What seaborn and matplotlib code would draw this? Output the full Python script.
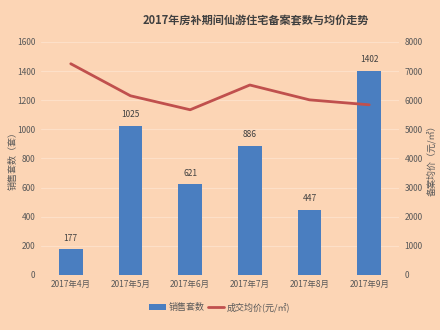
import matplotlib
matplotlib.use("Agg")
import matplotlib.pyplot as plt
import seaborn as sns
import pandas as pd
from matplotlib.patches import Patch
from matplotlib.lines import Line2D

months = ["2017年4月", "2017年5月", "2017年6月", "2017年7月", "2017年8月", "2017年9月"]
units_sold = [177, 1025, 621, 886, 447, 1402]
avg_price = [7250, 6150, 5670, 6520, 6010, 5840]

title = "2017年房补期间仙游住宅备案套数与均价走势"
left_label = "销售套数（套）"
right_label = "备案均价（元/㎡）"
bar_name = "销售套数"
line_name = "成交均价(元/㎡)"

bg = "#FCD5B5"
bar_color = "#4A7EC0"
line_color = "#C0504D"
tick_color = "#595959"

sns.set_theme(style="white")
plt.rcParams["font.family"] = ["Noto Sans CJK SC", "DejaVu Sans"]

df = pd.DataFrame({"month": months, "units": units_sold, "price": avg_price})

fig = plt.figure(figsize=(4.4, 3.3), dpi=100)
fig.patch.set_facecolor(bg)
ax = fig.add_axes([0.093, 0.167, 0.814, 0.706])
ax.set_facecolor(bg)

sns.barplot(data=df, x="month", y="units", color=bar_color, width=0.4,
            saturation=1, linewidth=0, ax=ax, zorder=2)
ax.set_ylim(0, 1600)
ax.set_yticks(range(0, 1601, 200))
ax.set_xlim(-0.5, 5.5)
ax.grid(axis="y", color="#FDE0C8", linewidth=0.8, zorder=0)
ax.set_axisbelow(True)
for s in ax.spines.values():
    s.set_visible(False)
ax.set_xlabel("")
ax.set_ylabel(left_label, fontsize=6.5, color=tick_color)
ax.yaxis.set_label_coords(-0.066, 0.5)
ax.tick_params(axis="both", length=0, labelsize=6, colors=tick_color, pad=4)

for i, v in enumerate(units_sold):
    ax.text(i, v + 45, str(v), ha="center", va="bottom", fontsize=6, color="#404040")

ax2 = ax.twinx()
ax2.set_facecolor("none")
sns.lineplot(x=list(range(len(months))), y=avg_price, color=line_color,
             linewidth=2, ax=ax2, zorder=3)
ax2.set_ylim(0, 8000)
ax2.set_yticks(range(0, 8001, 1000))
ax2.set_xlim(-0.5, 5.5)
for s in ax2.spines.values():
    s.set_visible(False)
ax2.set_ylabel(right_label, fontsize=6.5, color=tick_color, rotation=90)
ax2.yaxis.set_label_coords(1.078, 0.5)
ax2.tick_params(axis="y", length=0, labelsize=6, colors=tick_color, pad=4)

fig.text(0.582, 0.935, title, ha="center", va="center", fontsize=8,
         fontweight="bold", color="#404040")

handles = [Patch(facecolor=bar_color, edgecolor="none"),
           Line2D([0], [0], color=line_color, linewidth=2)]
fig.legend(handles, [bar_name, line_name], loc="center", bbox_to_anchor=(0.5, 0.07),
           ncol=2, frameon=False, fontsize=6.5, handlelength=1.8, columnspacing=0.4,
           handletextpad=0.3, labelcolor=tick_color)

fig.savefig("out.png", dpi=100, facecolor=bg)
